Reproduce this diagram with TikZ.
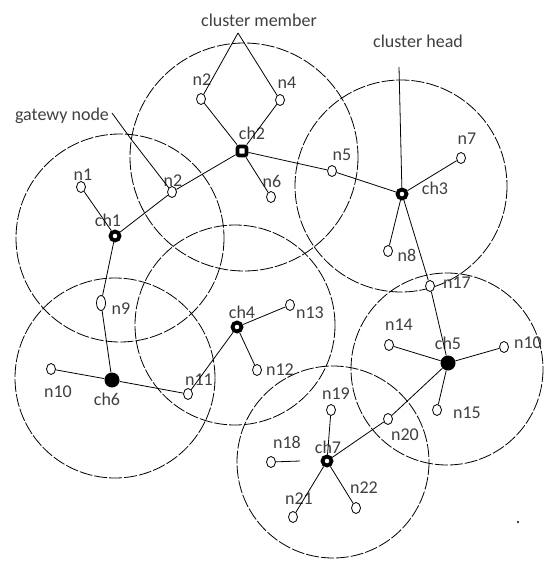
\documentclass[tikz,border=0pt]{standalone}
\usepackage{fontspec}
\setmainfont{Carlito}
\usetikzlibrary{shapes.geometric}
\begin{document}
\begin{tikzpicture}[x=1pt,y=-1pt,
  every node/.style={font=\fontsize{18}{20}\selectfont, text=black!75},
  member/.style={ellipse, draw, line width=0.8pt, fill=white, minimum width=9pt, minimum height=11pt, inner sep=0pt},
  tallmember/.style={member, minimum height=15pt},
  headring/.style={circle, draw, line width=3.8pt, fill=white, minimum size=9pt, inner sep=0pt},
  headsq/.style={rectangle, rounded corners=2pt, draw, line width=3.8pt, fill=white, minimum size=9pt, inner sep=0pt},
  headsolid/.style={circle, fill=black, minimum size=15pt, inner sep=0pt},
  rangecircle/.style={line width=0.8pt, dash pattern=on 13pt off 2pt},
  link/.style={line width=0.8pt},
  lbl/.style={inner sep=0pt}]
\useasboundingbox (0,0) rectangle (543,561);
\fill[white] (0,0) rectangle (543,561);

% range circles
\draw[rangecircle] (120,238) circle (104);
\draw[rangecircle] (244,157) circle (114);
\draw[rangecircle] (401,186) circle (106);
\draw[rangecircle] (235,325) circle (100);
\draw[rangecircle] (115,378) circle (100);
\draw[rangecircle] (447,369) circle (96);
\draw[rangecircle] (333,462) circle (96);

% nodes
\node[headring] (ch1) at (115,236) {};
\node[headsq] (ch2) at (242,151) {};
\node[headring] (ch3) at (402,194) {};
\node[headring] (ch4) at (237,327) {};
\node[headsolid] (ch5) at (448,363) {};
\node[headsolid] (ch6) at (112,380) {};
\node[headring] (ch7) at (327,461) {};

\node[member] (n1) at (81,187) {};
\node[member] (n2b) at (172,192) {};
\node[member] (n2a) at (201,99) {};
\node[member] (n4) at (280,100) {};
\node[member] (n6) at (271,197) {};
\node[member] (n5) at (332,171) {};
\node[member] (n7) at (461,158) {};
\node[member] (n8) at (388,251) {};
\node[tallmember] (n9) at (101,303) {};
\node[member] (n10a) at (51,369) {};
\node[member] (n11) at (188,394) {};
\node[member] (n12) at (257,370) {};
\node[member] (n13) at (290,305) {};
\node[member] (n17) at (430,286) {};
\node[member] (n14) at (389,345) {};
\node[member] (n10b) at (504,347) {};
\node[member] (n15) at (437,410) {};
\node[member] (n20) at (388,419) {};
\node[member] (n19) at (331,410) {};
\node[member] (n18) at (271,462) {};
\node[member] (n21) at (293,517) {};
\node[member] (n22) at (356,508) {};

% labels
\node[lbl] (lcm) at (259,20) {cluster member};
\node[lbl] (lch) at (418,41) {cluster head};
\node[lbl] (lgw) at (62,116) {gatewy node};
\node[lbl] at (83,175) {n1};
\node[lbl] at (173,181) {n2};
\node[lbl] at (108,220) {ch1};
\node[lbl] at (202,80) {n2};
\node[lbl] at (287,83) {n4};
\node[lbl] at (252,133) {ch2};
\node[lbl] at (272,181) {n6};
\node[lbl] at (342,155) {n5};
\node[lbl] at (435,188) {ch3};
\node[lbl] at (467,139) {n7};
\node[lbl] at (407,255) {n8};
\node[lbl] at (121,309) {n9};
\node[lbl] at (107,399) {ch6};
\node[lbl] at (58,392) {n10};
\node[lbl] at (199,380) {n11};
\node[lbl] at (242,312) {ch4};
\node[lbl] at (280,370) {n12};
\node[lbl] at (310,313) {n13};
\node[lbl] at (457,283) {n17};
\node[lbl] at (399,325) {n14};
\node[lbl] at (448,343) {ch5};
\node[lbl] at (528,343) {n10};
\node[lbl] at (467,413) {n15};
\node[lbl] at (405,435) {n20};
\node[lbl] at (336,394) {n19};
\node[lbl] at (287,442) {n18};
\node[lbl] at (328,447) {ch7};
\node[lbl] at (364,488) {n22};
\node[lbl] at (299,499) {n21};

% connectors
\draw[link] (ch1) -- (n1);
\draw[link] (ch1) -- (n2b);
\draw[link] (n2b) -- (ch2);
\draw[link] (ch2) -- (n2a);
\draw[link] (ch2) -- (n4);
\draw[link] (ch2) -- (n6);
\draw[link] (ch2) -- (n5);
\draw[link] (n5) -- (ch3);
\draw[link] (ch3) -- (n7);
\draw[link] (ch3) -- (n8);
\draw[link] (ch3) -- (n17);
\draw[link] (n17) -- (ch5);
\draw[link] (ch1) -- (n9);
\draw[link] (n9) -- (ch6);
\draw[link] (ch6) -- (n10a);
\draw[link] (ch6) -- (n11);
\draw[link] (n11) -- (ch4);
\draw[link] (ch4) -- (n12);
\draw[link] (ch4) -- (n13);
\draw[link] (ch5) -- (n14);
\draw[link] (ch5) -- (n10b);
\draw[link] (ch5) -- (n15);
\draw[link] (ch5) -- (n20);
\draw[link] (n20) -- (ch7);
\draw[link] (ch7) -- (n19);
\draw[link] (ch7) -- (n21);
\draw[link] (ch7) -- (n22);
\coordinate (s18) at (300,461);
\draw[link] (n18) -- (s18);
% annotations
\coordinate (apex) at (238,33);
\draw[link] (apex) -- (n2a);
\draw[link] (apex) -- (n4);
\coordinate (chtop) at (399,67);
\draw[link] (chtop) -- (ch3);
\coordinate (gw0) at (112,113);
\coordinate (gw1) at (131,139);
\draw[link] (gw0) -- (gw1) -- (n2b);
\coordinate (dot) at (518,522);
\fill (dot) circle (1.2);
\end{tikzpicture}
\end{document}
